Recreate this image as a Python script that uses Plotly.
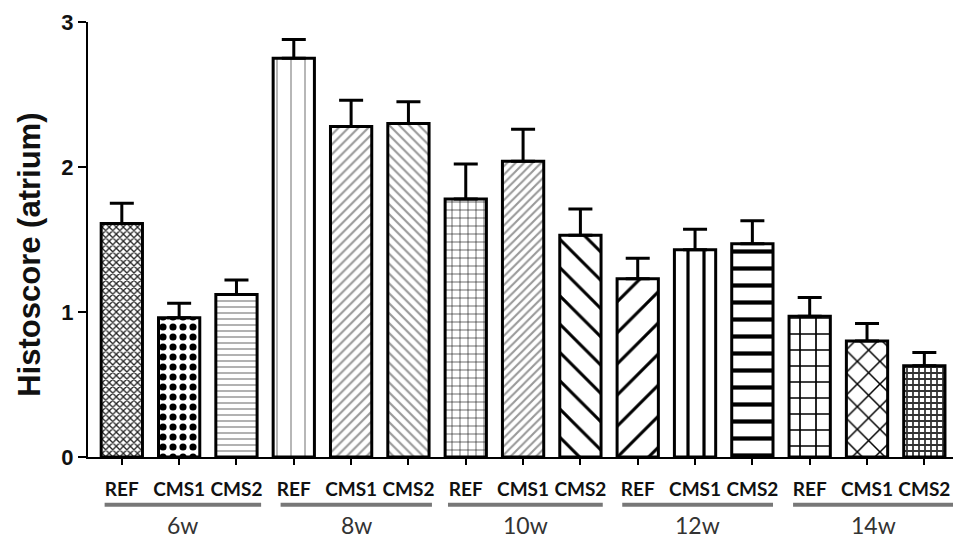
import plotly.graph_objects as go

groups = ["6w", "8w", "10w", "12w", "14w"]
conditions = ["REF", "CMS1", "CMS2"]
means = [1.61, 0.96, 1.12,
         2.75, 2.28, 2.30,
         1.78, 2.04, 1.53,
         1.23, 1.43, 1.47,
         0.97, 0.80, 0.63]
errors = [0.14, 0.10, 0.10,
          0.13, 0.18, 0.15,
          0.24, 0.22, 0.18,
          0.14, 0.14, 0.16,
          0.13, 0.12, 0.09]

n = len(means)
xpos = list(range(n))
ticktext = [conditions[i % 3] for i in range(n)]

shapes_p = ["x", ".", "-", "|", "/", "\\", "+", "/", "\\", "/", "|", "-", "+", "x", "+"]
fg = ["#222", "#000", "#aaa", "#aaa", "#999", "#999", "#111", "#999", "#000", "#000", "#000", "#000", "#000", "#000", "#333"]
psize = [5, 10, 6, 14, 7, 7, 8, 6, 20, 22, 16, 17, 16, 16, 6]
solid = [0.45, 0.4, 0.3, 0.12, 0.3, 0.3, 0.15, 0.35, 0.15, 0.14, 0.2, 0.25, 0.2, 0.18, 0.5]

fig = go.Figure()
fig.add_trace(go.Bar(
    x=xpos, y=means, width=0.72,
    marker=dict(color="white", line=dict(color="black", width=3),
                pattern=dict(shape=shapes_p, fgcolor=fg, bgcolor="white", fgopacity=1,
                             size=psize, solidity=solid, fillmode="overlay")),
    error_y=dict(type="data", array=errors, arrayminus=[0] * n, symmetric=False,
                 color="black", thickness=3, width=12),
    showlegend=False,
))

shapes = []
annotations = []
spans = [(-0.30, 2.43), (2.77, 5.41), (5.69, 8.39), (8.73, 11.36), (11.71, 14.5)]
for g, (a, b) in zip(groups, spans):
    shapes.append(dict(type="line", xref="x", yref="paper", x0=a, x1=b, y0=-0.110, y1=-0.110,
                       line=dict(color="#777", width=4)))
    annotations.append(dict(text=g, xref="x", yref="paper", x=(a + b) / 2, y=-0.156,
                            showarrow=False, xanchor="center", yanchor="middle",
                            font=dict(family="Lato", size=23, color="#333")))
annotations.append(dict(text="<b>Histoscore (atrium)</b>", xref="paper", yref="paper",
                        x=-0.067, y=0.465, textangle=-90, showarrow=False,
                        xanchor="center", yanchor="middle",
                        font=dict(family="Liberation Sans", size=31, color="#111")))

fig.update_layout(
    width=962, height=537,
    margin=dict(l=80, r=17, t=14, b=88, autoexpand=False),
    plot_bgcolor="white", paper_bgcolor="white",
    shapes=shapes, annotations=annotations,
    xaxis=dict(range=[-0.59, 14.5], tickvals=xpos, ticktext=["<b>%s</b>" % t for t in ticktext],
               automargin=False,
               showgrid=False, zeroline=False, showline=True, linecolor="black", linewidth=2,
               ticks="outside", ticklen=6, tickwidth=2, tickcolor="black",
               tickfont=dict(family="Lato", size=19, color="#111"), ticklabelstandoff=8),
    yaxis=dict(range=[0, 3], tickvals=[0, 1, 2, 3], ticktext=["<b>0</b>", "<b>1</b>", "<b>2</b>", "<b>3</b>"],
               automargin=False,
               showgrid=False, zeroline=False, showline=True, linecolor="black", linewidth=2,
               ticks="outside", ticklen=8, tickwidth=2, tickcolor="black",
               tickfont=dict(family="Liberation Sans", size=22, color="#111")),
)

fig.write_html("out.html")
